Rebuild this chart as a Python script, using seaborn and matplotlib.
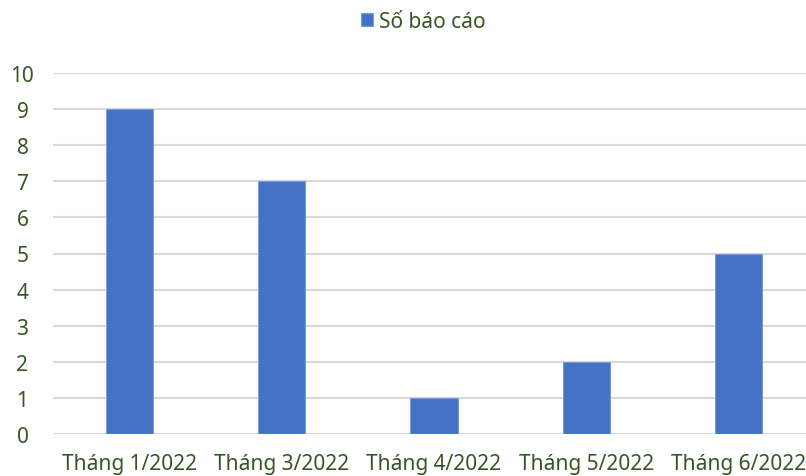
import matplotlib
matplotlib.use("Agg")
import matplotlib.pyplot as plt
import seaborn as sns
import pandas as pd

categories = ["Tháng 1/2022", "Tháng 3/2022", "Tháng 4/2022", "Tháng 5/2022", "Tháng 6/2022"]
values = [9, 7, 1, 2, 5]
series_name = "Số báo cáo"
y_ticks = list(range(0, 11))

df = pd.DataFrame({"Tháng": categories, series_name: values})

sns.set_theme(style="white")
plt.rcParams["font.family"] = ["Noto Sans", "DejaVu Sans"]

text_color = "#375623"
bar_color = "#4472C4"

fig = plt.figure(figsize=(8.06, 4.77), dpi=100)
ax = fig.add_axes([53 / 806, 42 / 477, 762 / 806, 361 / 477])

sns.barplot(data=df, x="Tháng", y=series_name, color=bar_color, width=0.31,
            saturation=1, edgecolor="#7a9ad8", linewidth=0.8, ax=ax,
            label=series_name, zorder=3)

ax.set_ylim(0, 10)
ax.set_xlim(-0.5, len(categories) - 0.5)
ax.set_yticks(y_ticks)
ax.yaxis.grid(True, color="#d9d9d9", linewidth=1.5, zorder=0)
ax.xaxis.grid(False)
for s in ax.spines.values():
    s.set_visible(False)
ax.set_xlabel("")
ax.set_ylabel("")
ax.tick_params(axis="both", length=0, labelsize=15, colors=text_color)
ax.tick_params(axis="y", pad=22)
ax.tick_params(axis="x", pad=14)
for lbl in ax.get_yticklabels():
    lbl.set_horizontalalignment("center")

leg = ax.legend(loc="center", bbox_to_anchor=(423 / 806, 1 - 22 / 477),
                bbox_transform=fig.transFigure, frameon=False, fontsize=15,
                handlelength=0.6, handleheight=0.6, handletextpad=0.25)
for t in leg.get_texts():
    t.set_color(text_color)

fig.savefig("out.png", dpi=100)
